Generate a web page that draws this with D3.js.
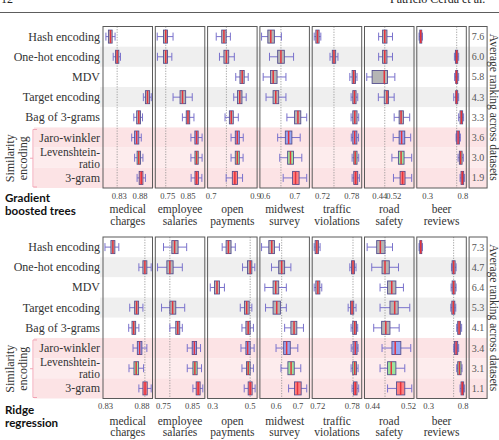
<!DOCTYPE html>
<html>
<head>
<meta charset="utf-8">
<script src="https://cdn.jsdelivr.net/npm/d3@7"></script>
<style>
  body { margin: 0; background: #fff; }
  svg { display: block; }
</style>
</head>
<body>
<div id="chart"></div>
<script>
// rows (top to bottom) and datasets (left to right)
const methods = ["Hash encoding", "One-hot encoding", "MDV", "Target encoding",
                 "Bag of 3-grams", "Jaro-winkler", "Levenshtein-ratio", "3-gram"];
const datasets = [["medical", "charges"], ["employee", "salaries"], ["open", "payments"],
                  ["midwest", "survey"], ["traffic", "violations"], ["road", "safety"],
                  ["beer", "reviews"]];

// each row: [whisker low, q1, median, q3, whisker high], null = not run
const gbtMedical = [[0.799, 0.805, 0.810, 0.814, 0.821], [0.8165, 0.8222, 0.826, 0.830, 0.834], null,
  [0.889, 0.894, 0.899, 0.904, 0.908], [0.866, 0.873, 0.878, 0.882, 0.887],
  [0.861, 0.868, 0.873, 0.878, 0.884], [0.868, 0.874, 0.878, 0.882, 0.888], [0.874, 0.879, 0.884, 0.888, 0.894]];
const gbtEmployee = [[0.701, 0.732, 0.743, 0.7515, 0.779], [0.702, 0.732, 0.743, 0.7515, 0.773], null,
  [0.779, 0.8135, 0.8256, 0.841, 0.8735], [0.825, 0.844, 0.8525, 0.861, 0.882],
  [0.867, 0.8866, 0.895, 0.9027, 0.922], [0.867, 0.887, 0.895, 0.903, 0.922], [0.868, 0.887, 0.895, 0.904, 0.921]];
const gbtOpen = [[0.7254, 0.750, 0.760, 0.770, 0.789], [0.740, 0.760, 0.771, 0.7814, 0.8067],
  [0.813, 0.832, 0.842, 0.851, 0.869], [0.804, 0.821, 0.831, 0.841, 0.860], [0.765, 0.7845, 0.793, 0.802, 0.8245],
  [0.792, 0.811, 0.820, 0.829, 0.8467], [0.792, 0.811, 0.820, 0.829, 0.846], [0.770, 0.7978, 0.809, 0.821, 0.8436]];
const gbtMidwest = [[0.590, 0.611, 0.621, 0.633, 0.6565], [0.6166, 0.644, 0.655, 0.6664, 0.6974],
  [0.5954, 0.620, 0.629, 0.642, 0.6718], [0.605, 0.6286, 0.6376, 0.6475, 0.6718], [0.675, 0.7007, 0.712, 0.7216, 0.7415],
  [0.644, 0.6698, 0.6807, 0.6917, 0.7196], [0.651, 0.6774, 0.687, 0.697, 0.725], [0.6625, 0.694, 0.704, 0.716, 0.7415]];
const gbtTraffic = [[0.7038, 0.7072, 0.7105, 0.7139, 0.7174], [0.7363, 0.741, 0.7444, 0.7479, 0.7526],
  [0.777, 0.7817, 0.7851, 0.7886, 0.7918], [0.7796, 0.7831, 0.7865, 0.7898, 0.7933], [0.7796, 0.7831, 0.7872, 0.7918, 0.7953],
  [0.780, 0.7831, 0.787, 0.7915, 0.795], [0.7817, 0.7851, 0.788, 0.7918, 0.7953], [0.7817, 0.7851, 0.789, 0.7932, 0.7967]];
const gbtRoad = [[0.4357, 0.4586, 0.4711, 0.4837, 0.5157], [0.4357, 0.4586, 0.4711, 0.4837, 0.5157],
  [0.367, 0.398, 0.4683, 0.4871, 0.5294], [0.434, 0.4683, 0.4837, 0.4929, 0.5254], [0.5254, 0.554, 0.5654, 0.5786, 0.6151],
  [0.5197, 0.554, 0.5683, 0.5866, 0.6209], [0.5123, 0.55, 0.5654, 0.5826, 0.6266], [0.5214, 0.5597, 0.574, 0.5883, 0.6266]];
const gbtBeer = [[0.1844, 0.1943, 0.2083, 0.2224, 0.2323], [0.687, 0.7013, 0.7196, 0.7337, 0.7478],
  [0.690, 0.7055, 0.716, 0.7337, 0.7478], [0.6774, 0.7055, 0.716, 0.7337, 0.7478], [0.7478, 0.7675, 0.7858, 0.8041, 0.8182],
  [0.711, 0.7196, 0.7393, 0.7576, 0.7717], [0.7393, 0.7576, 0.7759, 0.7963, 0.814], [0.7675, 0.7816, 0.800, 0.8182, 0.8322]];

const ridgeMedical = [[0.830, 0.8381, 0.8408, 0.8435, 0.8489], [0.8763, 0.8818, 0.8845, 0.8872, 0.8931], null,
  [0.8638, 0.8705, 0.8732, 0.8759, 0.8818], [0.8624, 0.8669, 0.8692, 0.8719, 0.8763],
  [0.8683, 0.8742, 0.8773, 0.8804, 0.8872], [0.8628, 0.8696, 0.8726, 0.8759, 0.8827], [0.8763, 0.8818, 0.8847, 0.8877, 0.8931]];
const ridgeEmployee = [[0.752, 0.7807, 0.7903, 0.8022, 0.8319], [0.7315, 0.7636, 0.7739, 0.7851, 0.8169], null,
  [0.7452, 0.7739, 0.7834, 0.7943, 0.8251], [0.7739, 0.7943, 0.8012, 0.808, 0.8169],
  [0.8339, 0.851, 0.8585, 0.866, 0.8797], [0.8339, 0.8534, 0.8602, 0.8681, 0.8831], [0.8534, 0.8647, 0.8715, 0.8783, 0.8875]];
const ridgeOpen = [[0.3537, 0.3747, 0.3868, 0.401, 0.4237], [0.4621, 0.4884, 0.5026, 0.5116, 0.5274],
  [0.2905, 0.3131, 0.3263, 0.3395, 0.3658], [0.450, 0.4726, 0.4842, 0.4974, 0.5116], [0.4589, 0.480, 0.4921, 0.5026, 0.520],
  [0.4537, 0.480, 0.4895, 0.5026, 0.5237], [0.4589, 0.4832, 0.4921, 0.5026, 0.520], [0.471, 0.4921, 0.5026, 0.5131, 0.5289]];
const ridgeMidwest = [[0.535, 0.5682, 0.5818, 0.5941, 0.6168], [0.5805, 0.6137, 0.6273, 0.6409, 0.6696],
  [0.550, 0.5878, 0.600, 0.6137, 0.6487], [0.5532, 0.5878, 0.6046, 0.6214, 0.6487], [0.6409, 0.6696, 0.6841, 0.6968, 0.7273],
  [0.6014, 0.6364, 0.650, 0.6668, 0.7014], [0.6241, 0.6559, 0.6705, 0.685, 0.715], [0.6591, 0.6864, 0.700, 0.7168, 0.7423]];
const ridgeTraffic = [[0.7148, 0.7165, 0.7195, 0.7222, 0.7251], [0.7766, 0.7795, 0.7821, 0.7846, 0.7874],
  [0.7148, 0.7177, 0.7212, 0.7246, 0.728], [0.7737, 0.7778, 0.7805, 0.7834, 0.7874], [0.7788, 0.7817, 0.7852, 0.7881, 0.7903],
  [0.779, 0.7823, 0.786, 0.7891, 0.7909], [0.7788, 0.7817, 0.7852, 0.7881, 0.7909], [0.7805, 0.7829, 0.786, 0.7891, 0.792]];
const ridgeRoad = [[0.4289, 0.4501, 0.4582, 0.4686, 0.4853], [0.4391, 0.462, 0.4686, 0.4781, 0.4986],
  [0.4576, 0.4743, 0.4836, 0.4928, 0.5096], [0.4576, 0.4796, 0.4902, 0.4979, 0.5237], [0.4435, 0.4611, 0.4704, 0.4796, 0.5001],
  [0.462, 0.484, 0.4913, 0.5038, 0.5259], [0.4576, 0.4743, 0.4825, 0.4928, 0.5126], [0.4743, 0.4941, 0.5034, 0.5126, 0.5281]];
const ridgeBeer = [[0.1678, 0.1779, 0.1923, 0.2066, 0.2167], [0.6377, 0.6477, 0.6693, 0.6908, 0.7052],
  [0.6329, 0.6477, 0.6693, 0.6908, 0.7052], [0.6281, 0.6429, 0.6645, 0.686, 0.7004], [0.7138, 0.7282, 0.7483, 0.767, 0.7857],
  [0.6707, 0.6808, 0.7052, 0.7282, 0.7426], [0.7138, 0.7282, 0.7526, 0.7771, 0.7914], [0.7627, 0.777, 0.7957, 0.8144, 0.8288]];

// average ranking across datasets
const gbtRanks = ["7.6", "6.0", "5.8", "4.3", "3.3", "3.6", "3.0", "1.9"];
const ridgeRanks = ["7.3", "4.7", "6.4", "5.3", "4.1", "3.4", "3.1", "1.1"];

// axis ranges and tick labels per dataset
const gbtDomains = [[0.792, 0.911], [0.6915, 0.9354], [0.6867, 0.9089], [0.5844, 0.7505],
                    [0.6997, 0.8014], [0.354, 0.64], [0.152, 0.8562]];
const ridgeDomains = [[0.8273, 0.8949], [0.7237, 0.8944], [0.2763, 0.5395], [0.5273, 0.7546],
                      [0.7114, 0.7972], [0.423, 0.5331], [0.1348, 0.8532]];
const gbtTicks = [[0.83, 0.88], [0.75, 0.85], [0.7, 0.9], [0.6, 0.7], [0.72, 0.78], [0.44, 0.52], [0.3, 0.8]];
const ridgeTicks = [[0.83, 0.88], [0.75, 0.85], [0.3, 0.5], [0.6, 0.7], [0.72, 0.78], [0.44, 0.52], [0.3, 0.8]];

const W = 499, H = 440;
const serif = "'Liberation Serif', 'Times New Roman', serif";

const svg = d3.select("#chart").append("svg")
    .attr("width", W)
    .attr("height", H)
    .style("font-family", serif);

// page header (cut at the top)
svg.append("text").attr("x", 1).attr("y", 3).attr("font-size", 12).attr("fill", "#222").text("12");
svg.append("text").attr("x", 390).attr("y", 3).attr("font-size", 12).attr("fill", "#222").text("Patricio Cerda et al.");
svg.append("line").attr("x1", 0).attr("x2", W).attr("y1", 12.5).attr("y2", 12.5)
    .attr("stroke", "#333").attr("stroke-width", 0.8);

const panelX0 = 103, panelStep = 52.3, panelW = 49.5, rankW = 18;
const rankX = panelX0 + 7 * panelStep;
const bandX0 = 100, pinkX0 = 34, bandX1 = rankX + rankW;
const bandColors = ["#ffffff", "#efefef", "#ffffff", "#efefef", "#ffffff", "#fce3e5", "#fdeced", "#fce3e5"];
const boxFills = ["#b5b5b5", "#b5b5b5", "#b5b5b5", "#b5b5b5", "#b5b5b5", "#98a8f2", "#9de39d", "#ff8080"];
const boxH = 13, capH = 8;

function drawModel(m) {
    var g = svg.append("g");
    var y = d3.scaleBand().domain(d3.range(8)).range([m.top, m.top + 161.5]);
    var bottom = m.top + 161.5;

    // row bands
    g.selectAll(".band")
        .data(d3.range(8))
        .enter()
        .append("rect")
        .attr("class", "band")
        .attr("x", i => i >= 5 ? pinkX0 : bandX0)
        .attr("y", i => y(i))
        .attr("width", i => bandX1 - (i >= 5 ? pinkX0 : bandX0))
        .attr("height", y.bandwidth())
        .attr("fill", i => bandColors[i]);

    // row labels
    methods.forEach(function(name, i) {
        var cy = y(i) + y.bandwidth() / 2;
        if (name == "Levenshtein-ratio") {
            g.append("text").attr("x", 100).attr("y", cy - 2).attr("text-anchor", "end")
                .attr("font-size", 11.5).attr("fill", "#333").text("Levenshtein-");
            g.append("text").attr("x", 100).attr("y", cy + 10).attr("text-anchor", "end")
                .attr("font-size", 11.5).attr("fill", "#333").text("ratio");
        } else {
            g.append("text").attr("x", 100).attr("y", cy + 4).attr("text-anchor", "end")
                .attr("font-size", 12).attr("fill", "#333").text(name);
        }
    });

    // similarity bracket
    var sy0 = y(5) + 2, sy1 = bottom - 1, smid = (sy0 + sy1) / 2;
    g.append("path")
        .attr("d", `M37,${sy0} L33,${sy0} L33,${sy1} L37,${sy1} M33,${smid} L30,${smid}`)
        .attr("fill", "none").attr("stroke", "#f2a3b3").attr("stroke-width", 1);
    g.append("text").attr("transform", `translate(13.5,${smid}) rotate(-90)`)
        .attr("text-anchor", "middle").attr("font-size", 12).attr("fill", "#333").text("Similarity");
    g.append("text").attr("transform", `translate(26.5,${smid}) rotate(-90)`)
        .attr("text-anchor", "middle").attr("font-size", 12).attr("fill", "#333").text("encoding");

    // model name, two lines
    m.title.forEach(function(line, j) {
        g.append("text")
            .attr("x", 5).attr("y", m.titleY + j * 12.8)
            .attr("font-family", "Lato, 'Open Sans', sans-serif")
            .attr("font-weight", 700).attr("font-size", 11.6).attr("fill", "#111")
            .text(line);
    });

    m.series.forEach(function(rows, k) {
        var left = panelX0 + k * panelStep;
        var x = d3.scaleLinear().domain(m.domains[k]).range([left, left + panelW]);
        var pg = g.append("g");

        // reference line at one-hot median
        pg.append("line")
            .attr("x1", x(rows[1][2])).attr("x2", x(rows[1][2]))
            .attr("y1", m.top).attr("y2", bottom)
            .attr("stroke", "#8a8a8a").attr("stroke-width", 0.8)
            .attr("stroke-dasharray", "1.2,1.4");

        var items = rows.map((d, i) => ({d: d, i: i})).filter(o => o.d);
        var box = pg.selectAll(".box")
            .data(items)
            .enter()
            .append("g")
            .attr("class", "box")
            .attr("transform", o => `translate(0,${y(o.i) + y.bandwidth() / 2})`);

        box.append("line")
            .attr("x1", o => x(o.d[0])).attr("x2", o => x(o.d[4]))
            .attr("stroke", "#7a72cc").attr("stroke-width", 1);
        box.append("line")
            .attr("x1", o => x(o.d[0])).attr("x2", o => x(o.d[0]))
            .attr("y1", -capH / 2).attr("y2", capH / 2)
            .attr("stroke", "#7a72cc").attr("stroke-width", 1);
        box.append("line")
            .attr("x1", o => x(o.d[4])).attr("x2", o => x(o.d[4]))
            .attr("y1", -capH / 2).attr("y2", capH / 2)
            .attr("stroke", "#7a72cc").attr("stroke-width", 1);
        box.append("rect")
            .attr("x", o => x(o.d[1]))
            .attr("width", o => x(o.d[3]) - x(o.d[1]))
            .attr("y", -boxH / 2).attr("height", boxH)
            .attr("fill", o => boxFills[o.i])
            .attr("stroke", "#55508f").attr("stroke-width", 0.9);
        box.append("line")
            .attr("x1", o => x(o.d[2])).attr("x2", o => x(o.d[2]))
            .attr("y1", -boxH / 2).attr("y2", boxH / 2)
            .attr("stroke", "#e4323c").attr("stroke-width", 1.5);

        // panel frame
        pg.append("rect")
            .attr("x", left).attr("y", m.top)
            .attr("width", panelW).attr("height", bottom - m.top)
            .attr("fill", "none").attr("stroke", "#5a5a5a").attr("stroke-width", 1);

        // tick labels
        var axis = pg.append("g")
            .attr("transform", `translate(0,${bottom})`)
            .call(d3.axisBottom(x).tickValues(m.ticks[k]).tickSize(0).tickPadding(m.tickPad)
                .tickFormat(d3.format("")));
        axis.select(".domain").remove();
        axis.selectAll("text").attr("font-family", serif).attr("font-size", 8.6).attr("fill", "#444");

        // dataset name
        var name = pg.append("text").attr("text-anchor", "middle").attr("font-size", 11.5).attr("fill", "#333");
        name.append("tspan").attr("x", left + panelW / 2).attr("y", m.nameY).text(datasets[k][0]);
        name.append("tspan").attr("x", left + panelW / 2).attr("y", m.nameY + 11.8).text(datasets[k][1]);
    });

    // average ranking column
    g.append("rect")
        .attr("x", rankX).attr("y", m.top)
        .attr("width", rankW).attr("height", bottom - m.top)
        .attr("fill", "none").attr("stroke", "#5a5a5a").attr("stroke-width", 1);
    g.selectAll(".rank")
        .data(m.ranks)
        .enter()
        .append("text")
        .attr("class", "rank")
        .attr("x", rankX + rankW / 2)
        .attr("y", (d, i) => y(i) + y.bandwidth() / 2 + 3.5)
        .attr("text-anchor", "middle")
        .attr("font-size", 10)
        .attr("fill", "#555")
        .text(d => d);
    g.append("text")
        .attr("transform", `translate(490,${(m.top + bottom) / 2}) rotate(90)`)
        .attr("text-anchor", "middle").attr("font-size", 11.5).attr("fill", "#333")
        .text("Average ranking across datasets");
}

drawModel({
    top: 26.5, titleY: 202, nameY: 213, tickPad: 5,
    title: ["Gradient", "boosted trees"],
    series: [gbtMedical, gbtEmployee, gbtOpen, gbtMidwest, gbtTraffic, gbtRoad, gbtBeer],
    domains: gbtDomains, ticks: gbtTicks, ranks: gbtRanks
});

drawModel({
    top: 237, titleY: 414, nameY: 424.5, tickPad: 4,
    title: ["Ridge", "regression"],
    series: [ridgeMedical, ridgeEmployee, ridgeOpen, ridgeMidwest, ridgeTraffic, ridgeRoad, ridgeBeer],
    domains: ridgeDomains, ticks: ridgeTicks, ranks: ridgeRanks
});
</script>
</body>
</html>
